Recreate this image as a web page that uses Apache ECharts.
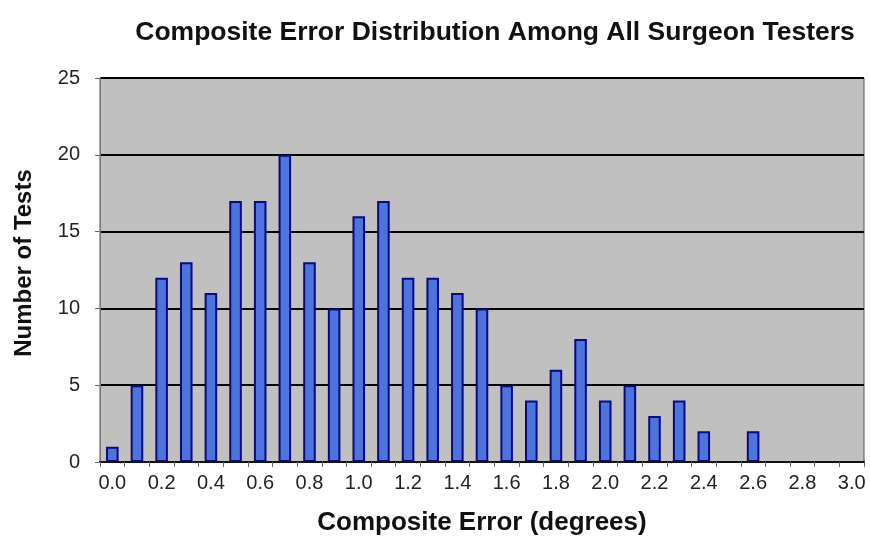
<!DOCTYPE html>
<html><head><meta charset="utf-8">
<script src="https://cdn.jsdelivr.net/npm/echarts@6/dist/echarts.min.js"></script>
<style>html,body{margin:0;padding:0;background:#fff}#c{width:870px;height:541px}</style>
</head><body><div id="c"></div>
<script>
const categories = ['0.0','0.1','0.2','0.3','0.4','0.5','0.6','0.7','0.8','0.9','1.0','1.1','1.2','1.3','1.4','1.5','1.6','1.7','1.8','1.9','2.0','2.1','2.2','2.3','2.4','2.5','2.6','2.7','2.8','2.9','3.0'];
const counts = [1,5,12,13,11,17,17,20,13,10,16,17,12,12,11,10,5,4,6,8,4,5,3,4,2,0,2,0,0,0,0];
const yTicks = [0,5,10,15,20,25];

const chart = echarts.init(document.getElementById('c'));
chart.setOption({
  animation: false,
  title: {
    text: 'Composite Error Distribution Among All Surgeon Testers',
    left: 490, top: 14, textAlign: 'center',
    textStyle: {fontFamily: 'Liberation Sans, Arial', fontSize: 26.5, fontWeight: 'bold', color: '#111'}
  },
  grid: {left: 100, right: 6, top: 78, bottom: 79, show: true, backgroundColor: '#c0c0c0', borderColor: '#555', borderWidth: 1},
  xAxis: {
    type: 'category', data: categories,
    name: 'Composite Error (degrees)', nameLocation: 'middle', nameGap: 48,
    nameTextStyle: {fontFamily: 'Liberation Sans, Arial', fontSize: 26, fontWeight: 'bold', color: '#111'},
    axisLine: {lineStyle: {color: '#111', width: 2}},
    axisTick: {show: true, alignWithLabel: false, interval: 0, length: 5, lineStyle: {color: '#666'}},
    axisLabel: {interval: 1, fontFamily: 'Liberation Sans, Arial', fontSize: 20, color: '#222', margin: 11}
  },
  yAxis: {
    type: 'value', min: 0, max: 25, interval: 5,
    name: 'Number of Tests', nameLocation: 'middle', nameGap: 64, nameRotate: 90,
    nameTextStyle: {fontFamily: 'Liberation Sans, Arial', fontSize: 24, fontWeight: 'bold', color: '#111', padding: [0, 0, 0, 14]},
    axisLine: {show: true, lineStyle: {color: '#777', width: 1}},
    axisTick: {show: true, length: 5, lineStyle: {color: '#666'}},
    axisLabel: {fontFamily: 'Liberation Sans, Arial', fontSize: 20, color: '#222', margin: 20,
      formatter: v => yTicks.includes(v) ? String(v) : ''},
    splitLine: {show: true, lineStyle: {color: '#000', width: 2}}
  },
  series: [{
    type: 'bar', data: counts.map(v => v === 0 ? null : v), barWidth: '51%',
    itemStyle: {color: '#4d74dc', borderColor: '#0a0a80', borderWidth: 2}
  }]
});
</script></body></html>
